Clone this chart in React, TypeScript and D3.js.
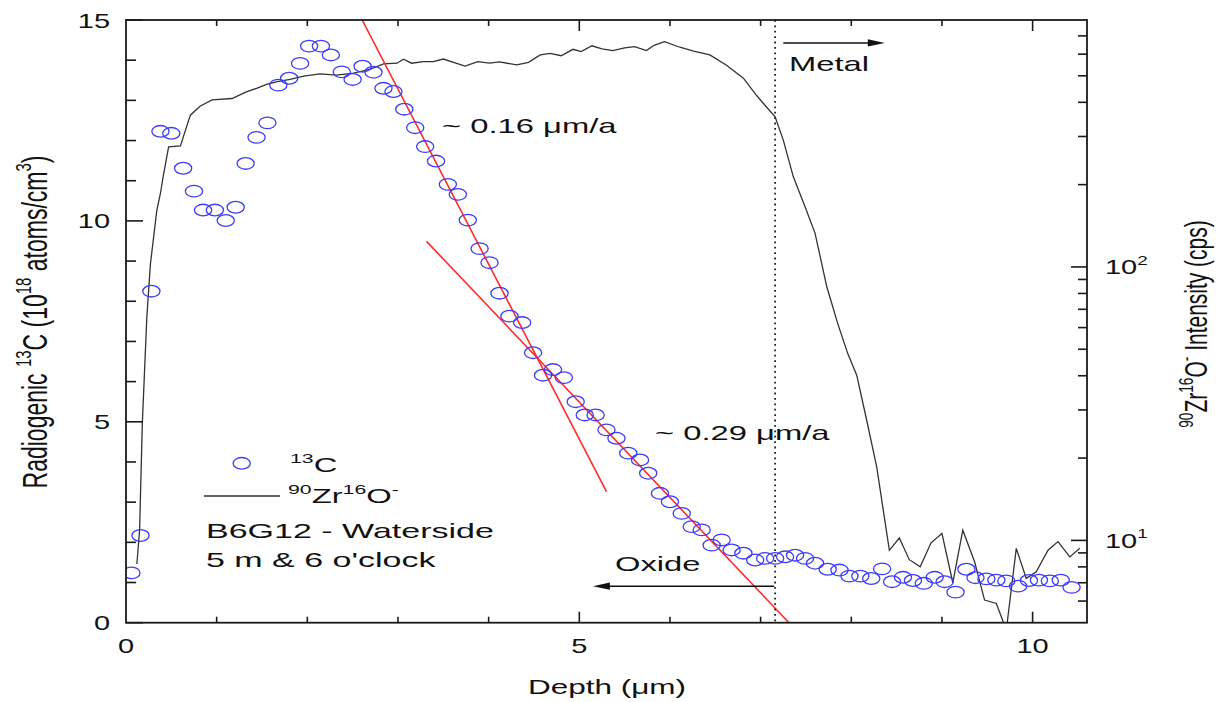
import React, { useEffect, useRef } from 'react';
import * as d3 from 'd3';

// radiogenic 13C (10^18 atoms/cm3) against depth (um)
const cDepth = [0.06, 0.16, 0.28, 0.38, 0.5, 0.63, 0.75, 0.85, 0.98, 1.1, 1.21, 1.32, 1.44, 1.56, 1.68, 1.8, 1.92, 2.02, 2.15, 2.26,
  2.38, 2.5, 2.61, 2.73, 2.84, 2.95, 3.07, 3.19, 3.3, 3.42, 3.55, 3.66, 3.77, 3.9, 4.01, 4.12, 4.23, 4.37, 4.49, 4.6,
  4.71, 4.83, 4.96, 5.06, 5.18, 5.3, 5.41, 5.54, 5.67, 5.76, 5.89, 6.0, 6.13, 6.24, 6.35, 6.46, 6.57, 6.68, 6.81, 6.94,
  7.05, 7.16, 7.27, 7.38, 7.49, 7.6, 7.74, 7.87, 7.98, 8.1, 8.22, 8.34, 8.45, 8.57, 8.68, 8.8, 8.92, 9.03, 9.15, 9.27,
  9.37, 9.49, 9.6, 9.71, 9.84, 9.96, 10.07, 10.19, 10.31, 10.43];
const cConc = [1.24, 2.17, 8.25, 12.23, 12.18, 11.31, 10.74, 10.27, 10.27, 10.01, 10.34, 11.43, 12.08, 12.44, 13.38, 13.55, 13.92, 14.35, 14.35, 14.13,
  13.71, 13.52, 13.85, 13.7, 13.3, 13.22, 12.78, 12.32, 11.85, 11.49, 10.91, 10.66, 10.02, 9.31, 8.96, 8.2, 7.63, 7.47, 6.72, 6.16,
  6.3, 6.1, 5.5, 5.17, 5.17, 4.8, 4.59, 4.22, 4.05, 3.72, 3.22, 3.01, 2.72, 2.39, 2.31, 1.93, 2.06, 1.81, 1.73, 1.56,
  1.6, 1.6, 1.64, 1.68, 1.6, 1.48, 1.33, 1.31, 1.16, 1.16, 1.1, 1.34, 1.02, 1.13, 1.05, 0.98, 1.13, 1.02, 0.76, 1.33,
  1.12, 1.09, 1.06, 1.04, 0.91, 1.05, 1.06, 1.04, 1.06, 0.88];

// 90Zr16O- intensity (cps) against depth (um)
const zrDepth = [0.12, 0.15, 0.18, 0.23, 0.27, 0.34, 0.38, 0.41, 0.47, 0.6, 0.71, 0.82, 0.95, 1.17, 1.32, 1.44, 1.55, 1.67, 1.81, 1.96,
  2.14, 2.32, 2.51, 2.69, 2.84, 2.99, 3.06, 3.15, 3.28, 3.39, 3.5, 3.63, 3.74, 3.88, 4.01, 4.12, 4.31, 4.44, 4.57, 4.68,
  4.8, 4.93, 5.02, 5.14, 5.25, 5.37, 5.5, 5.61, 5.74, 5.83, 5.94, 6.11, 6.26, 6.44, 6.62, 6.81, 6.95, 7.06, 7.16, 7.25,
  7.36, 7.49, 7.6, 7.73, 7.85, 7.96, 8.06, 8.17, 8.28, 8.42, 8.53, 8.64, 8.76, 8.88, 9.0, 9.12, 9.23, 9.36, 9.47, 9.6,
  9.71, 9.82, 9.93, 10.04, 10.17, 10.28, 10.41, 10.52];
const zrCps = [8.2, 10.9, 26.8, 65.7, 103, 161, 186, 214, 275, 277, 359, 388, 408, 413, 436, 450, 465, 476, 485, 499,
  508, 503, 511, 528, 553, 556, 575, 556, 563, 563, 576, 558, 543, 563, 556, 562, 548, 560, 596, 604,
  592, 625, 613, 644, 627, 618, 633, 639, 618, 648, 667, 636, 616, 596, 548, 490, 426, 386, 354, 291,
  214, 166, 133, 84.6, 62.2, 48.3, 40.2, 27.5, 18.6, 9.2, 10.2, 8.5, 8.0, 9.8, 10.6, 7.0, 10.9, 8.35, 6.05, 5.88,
  4.7, 9.35, 7.26, 7.68, 9.2, 9.9, 8.7, 9.35];

// fitted growth lines [depth, conc]
const fitSteep: [number, number][] = [[2.605, 15], [5.3, 3.26]];
const fitShallow: [number, number][] = [[3.315, 9.49], [7.313, 0]];

const interfaceDepth = 7.16;

const xMajor = [0, 5, 10];
const yMajor = [0, 5, 10, 15];
const y2Major = [10, 100];

const FONT = '"Liberation Sans", Arial, Helvetica, sans-serif';

type Seg = [string, boolean];

function addText(parent: any, px: number, py: number, size: number, sx: number, segs: Seg[], anchor = 'start', rot = 0) {
  const g = parent.append('g')
    .attr('transform', `translate(${px},${py}) scale(${sx},1)` + (rot ? ` rotate(${rot})` : ''));
  const t = g.append('text')
    .attr('font-family', FONT)
    .attr('font-size', size)
    .attr('fill', '#111')
    .attr('text-anchor', anchor);
  let up = false;
  const lift = size * 0.45;
  segs.forEach(([s, sup]) => {
    const ts = t.append('tspan').text(s);
    if (sup) {
      ts.attr('font-size', size * 0.65);
      if (!up) { ts.attr('dy', -lift); up = true; }
    } else if (up) {
      ts.attr('dy', lift); up = false;
    }
  });
  return t;
}

const App = () => {
  const svgRef = useRef<SVGSVGElement>(null);

  useEffect(() => {
    document.body.style.margin = '0';
    const svg = d3.select(svgRef.current);
    svg.selectAll('*').remove();

    const left = 126, right = 1087, top = 20, bottom = 622.7;
    const x = d3.scaleLinear().domain([0, 10.6]).range([left, right]);
    const y = d3.scaleLinear().domain([0, 15]).range([bottom, top]);
    const y2 = d3.scaleLog().domain([5, 800]).range([bottom, top]);

    svg.append('defs').append('clipPath').attr('id', 'plot-clip')
      .append('rect').attr('x', left).attr('y', top).attr('width', right - left).attr('height', bottom - top);

    const plot = svg.append('g').attr('clip-path', 'url(#plot-clip)');

    // ZrO- intensity
    const zrLine = d3.line<number>().x((d, i) => x(zrDepth[i])).y(d => y2(d));
    plot.append('path')
      .attr('d', zrLine(zrCps))
      .attr('fill', 'none')
      .attr('stroke', '#333')
      .attr('stroke-width', 1.3);

    // fit lines
    const fitLine = d3.line<[number, number]>().x(d => x(d[0])).y(d => y(d[1]));
    [fitSteep, fitShallow].forEach(f => {
      plot.append('path')
        .attr('d', fitLine(f))
        .attr('fill', 'none')
        .attr('stroke', '#ff2a2a')
        .attr('stroke-width', 1.6);
    });

    // 13C points
    plot.selectAll('ellipse.c13')
      .data(cConc)
      .enter().append('ellipse')
      .attr('class', 'c13')
      .attr('cx', (d, i) => x(cDepth[i]))
      .attr('cy', d => y(d))
      .attr('rx', 8.6)
      .attr('ry', 5.8)
      .attr('fill', 'none')
      .attr('stroke', '#3c3cff')
      .attr('stroke-width', 1.3);

    // oxide/metal interface
    svg.append('line')
      .attr('x1', x(interfaceDepth)).attr('x2', x(interfaceDepth))
      .attr('y1', top).attr('y2', bottom)
      .attr('stroke', '#222')
      .attr('stroke-width', 1.8)
      .attr('stroke-dasharray', '1.8,3.6');

    // arrows
    const arrow = (x0: number, x1: number, yv: number) => {
      const dir = Math.sign(x1 - x0);
      const py = y(yv);
      svg.append('line')
        .attr('x1', x(x0)).attr('x2', x(x1) - dir * 14)
        .attr('y1', py).attr('y2', py)
        .attr('stroke', '#111').attr('stroke-width', 1.5);
      const tip = x(x1);
      svg.append('path')
        .attr('d', `M${tip},${py} L${tip - dir * 17},${py - 3.6} L${tip - dir * 17},${py + 3.6} Z`)
        .attr('fill', '#111');
    };
    arrow(7.25, 8.37, 14.43);
    arrow(7.15, 5.15, 0.91);

    // frame
    svg.append('rect')
      .attr('x', left).attr('y', top)
      .attr('width', right - left).attr('height', bottom - top)
      .attr('fill', 'none').attr('stroke', '#1a1a1a').attr('stroke-width', 1.8);

    const ticks = svg.append('g').attr('stroke', '#1a1a1a').attr('stroke-width', 1.6);

    // left ticks
    d3.range(0, 16).forEach(v => {
      const len = yMajor.includes(v) ? 17 : 10;
      ticks.append('line').attr('x1', left).attr('x2', left + len).attr('y1', y(v)).attr('y2', y(v));
    });
    // bottom & top ticks
    d3.range(1, 11).forEach(v => {
      const len = xMajor.includes(v) ? 11 : 6;
      ticks.append('line').attr('x1', x(v)).attr('x2', x(v)).attr('y1', bottom).attr('y2', bottom - len);
      ticks.append('line').attr('x1', x(v)).attr('x2', x(v)).attr('y1', top).attr('y2', top + len);
    });
    // right log ticks
    const logTicks = [6, 7, 8, 9, 10, 20, 30, 40, 50, 60, 70, 80, 90, 100, 200, 300, 400, 500, 600, 700];
    logTicks.forEach(v => {
      const len = y2Major.includes(v) ? 16 : 9;
      ticks.append('line').attr('x1', right).attr('x2', right - len).attr('y1', y2(v)).attr('y2', y2(v));
    });

    // tick labels
    const TS = 21, TSX = 1.38, LSX = 1.5, ASX = 1.56;
    yMajor.forEach(v => addText(svg, 110, y(v) + 7.5, TS, TSX, [[String(v), false]], 'end'));
    xMajor.forEach(v => addText(svg, x(v), 653, TS, TSX, [[String(v), false]], 'middle'));
    y2Major.forEach(v => addText(svg, 1105, y2(v) + 7.5, TS, TSX,
      [['10', false], [String(Math.round(Math.log10(v))), true]]));

    // axis titles
    addText(svg, 607, 694, TS, LSX, [['Depth (\u03bcm)', false]], 'middle');
    addText(svg, 47, 322, 23, LSX,
      [['Radiogenic ', false], ['13', true], ['C (10', false], ['18', true], [' atoms/cm', false], ['3', true], [')', false]],
      'middle', -90);
    addText(svg, 1207, 324, TS, LSX,
      [['90', true], ['Zr', false], ['16', true], ['O', false], ['-', true], [' Intensity (cps)', false]],
      'middle', -90);

    // annotations
    addText(svg, 442, 133, TS, ASX, [['~ 0.16 \u03bcm/a', false]]);
    addText(svg, 655, 440, TS, ASX, [['~ 0.29 \u03bcm/a', false]]);
    addText(svg, 615, 571, TS, ASX, [['Oxide', false]]);
    addText(svg, 789, 71, TS, ASX, [['Metal', false]]);

    // legend
    svg.append('ellipse')
      .attr('cx', 241.7).attr('cy', 463.3).attr('rx', 8.6).attr('ry', 5.8)
      .attr('fill', 'none').attr('stroke', '#3c3cff').attr('stroke-width', 1.3);
    addText(svg, 290, 472, TS, ASX, [['13', true], ['C', false]]);
    svg.append('line')
      .attr('x1', 204).attr('x2', 280).attr('y1', 496).attr('y2', 496)
      .attr('stroke', '#333').attr('stroke-width', 1.3);
    addText(svg, 288, 503, TS, ASX, [['90', true], ['Zr', false], ['16', true], ['O', false], ['-', true]]);
    addText(svg, 206, 538, TS, 1.62, [['B6G12 - Waterside', false]]);
    addText(svg, 206, 567, TS, 1.62, [["5 m & 6 o'clock", false]]);
  }, []);

  return <svg ref={svgRef} width={1220} height={702} style={{ display: 'block', background: '#fff' }} />;
};

export default App;
